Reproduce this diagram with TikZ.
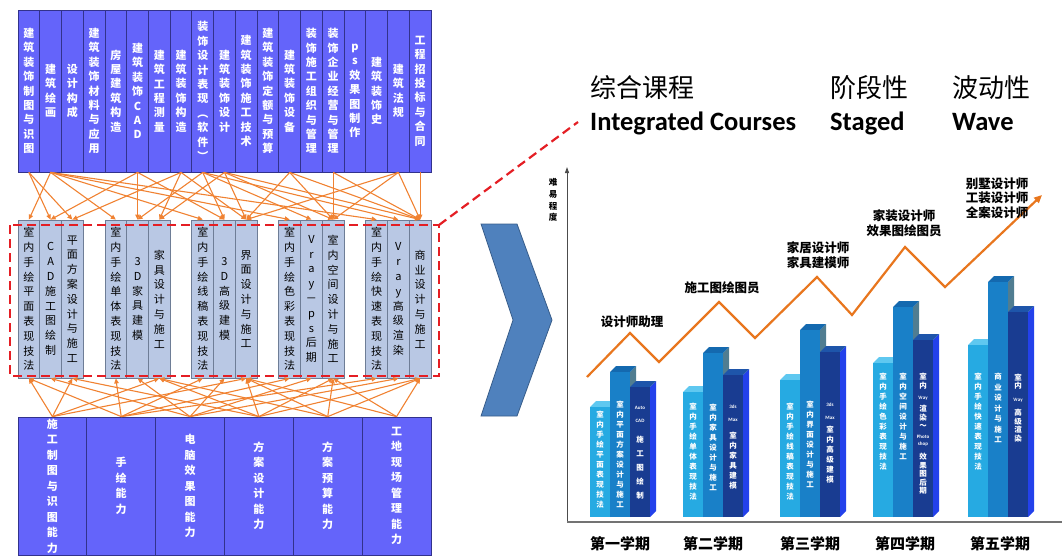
\documentclass[tikz,border=0pt]{standalone}
\usepackage{fontspec}
\setmainfont{Carlito}
\newfontfamily\cjk{Noto Sans CJK SC}
\usetikzlibrary{arrows.meta}
\def\vtgobble#1{}
\def\vtid#1{#1}
\def\vt#1{\vtfirst#1\relax}
\def\vtfirst#1{#1\vtrest}
\def\vtrest#1{\ifx#1\relax\expandafter\vtgobble\else\expandafter\vtid\fi{\\#1\vtrest}}
\def\vtx#1{\expandafter\vt\expandafter{#1}}
\definecolor{boxblue}{RGB}{100,100,250}
\definecolor{boxline}{RGB}{50,50,140}
\definecolor{midfill}{RGB}{185,200,228}
\definecolor{midline}{RGB}{110,125,150}
\definecolor{connc}{RGB}{240,130,50}
\definecolor{dashred}{RGB}{228,30,36}
\definecolor{chev}{RGB}{79,129,189}
\definecolor{chevline}{RGB}{56,93,138}
\definecolor{zigc}{RGB}{232,118,30}
\definecolor{lightF}{RGB}{38,170,226}
\definecolor{lightT}{RGB}{95,200,240}
\definecolor{lightS}{RGB}{25,120,175}
\definecolor{medF}{RGB}{25,128,200}
\definecolor{medT}{RGB}{20,105,175}
\definecolor{medS}{RGB}{80,125,145}
\definecolor{darkF}{RGB}{25,60,145}
\definecolor{darkT}{RGB}{30,85,170}
\definecolor{darkS}{RGB}{35,65,235}
\newcommand\chartbar[5]{%
  \fill[#5] ({#1+20},517) -- ({#1+26},511) -- ({#1+26},{#2-6}) -- ({#1+20},#2) -- cycle;
  \fill[#4] (#1,#2) -- ({#1+6},{#2-6}) -- ({#1+26},{#2-6}) -- ({#1+20},#2) -- cycle;
  \fill[#3] (#1,#2) rectangle ({#1+20},517);
}
\newcommand\bt[5][]{\node[bartext,#1] (#2) at (#3,{#4-3.75}) {\vt{#5}};}
\newcommand\bl[4]{\node[barlatin] (#1) at (#2,#3) {#4};}
\begin{document}
\begin{tikzpicture}[x=1pt,y=-1pt,
  topbox/.style={draw=boxline, fill=boxblue, text=white, line width=0.8pt, minimum width=21.74pt, minimum height=162pt, inner sep=0pt, align=center, font=\cjk\bfseries\fontsize{11}{14.4}\selectfont},
  midbox/.style={draw=midline, fill=midfill, text=black, line width=0.8pt, minimum width=21.74pt, minimum height=158pt, inner sep=0pt, align=center, font=\cjk\fontsize{11}{14.8}\selectfont},
  botbox/.style={draw=boxline, fill=boxblue, text=white, line width=0.8pt, minimum width=68.83pt, minimum height=138pt, inner sep=0pt, align=center, font=\cjk\bfseries\fontsize{11}{15.5}\selectfont},
  conn/.style={draw=connc, line width=1.1pt, -{Triangle[length=5pt,width=4.5pt]}},
  reddash/.style={draw=dashred, line width=2.2pt, dash pattern=on 9pt off 5pt},
  bartext/.style={text=white, inner sep=0pt, anchor=north, align=center, font=\cjk\bfseries\fontsize{7.5}{10}\selectfont},
  barlatin/.style={text=white, inner sep=0pt, font=\bfseries\fontsize{5}{6}\selectfont},
  lab/.style={inner sep=0pt, align=center, font=\cjk\bfseries\fontsize{12.5}{14.5}\selectfont},
  sem/.style={inner sep=0pt, font=\cjk\bfseries\fontsize{15}{17}\selectfont},
  zigline/.style={draw=zigc, line width=2.2pt, line join=miter, -{Triangle[length=8pt,width=7pt]}}
]
\useasboundingbox (0,0) rectangle (1062,557);

% top row
\foreach \txt [count=\i] in {建筑装饰制图与识图,建筑绘画,设计构成,建筑装饰材料与应用,房屋建筑构造,建筑装饰CAD,建筑工程测量,建筑装饰构造,装饰设计表现︵软件︶,建筑装饰设计,建筑装饰施工技术,建筑装饰定额与预算,建筑装饰设备,装饰施工组织与管理,装饰企业经营与管理,ps效果图制作,建筑装饰史,建筑法规,工程招投标与合同}
  \node[topbox] (t\i) at ({18+21.737*(\i-0.5)},91) {\vtx{\txt}};

% middle row
\foreach \txt [count=\j] in {室内手绘平面表现技法,CAD施工图绘制,平面方案设计与施工,室内手绘单体表现技法,3D家具建模,家具设计与施工,室内手绘线稿表现技法,3D高级建模,界面设计与施工,室内手绘色彩表现技法,Vray－ps后期,室内空间设计与施工,室内手绘快速表现技法,Vray高级渲染,商业设计与施工}{
  \pgfmathtruncatemacro\g{(\j-1)/3}
  \pgfmathtruncatemacro\k{\j-3*\g}
  \node[midbox] (m\j) at ({18+21.737*(4*\g+\k-0.5)},299) {\vtx{\txt}};
}

% bottom row
\foreach \txt [count=\i] in {施工制图与识图能力,手绘能力,电脑效果图能力,方案设计能力,方案预算能力,工地现场管理能力}
  \node[botbox] (b\i) at ({18+68.83*(\i-0.5)},486) {\vtx{\txt}};

% connectors top -> middle
\foreach \s/\d in {1/2,1/3,2/1,2/4,2/7,2/10,2/13,6/2,6/5,6/8,8/3,8/6,8/9,9/5,9/8,9/11,9/14,10/6,10/9,10/12,10/15,13/9,13/12,13/15,15/12,15/15,18/9,18/12,18/15,19/15}
  \draw[conn] (t\s.south) -- (m\d.north);
% connectors bottom -> middle
\foreach \s/\d in {1/1,1/3,1/6,1/9,2/1,2/4,2/7,2/10,2/13,3/2,3/5,3/8,3/11,3/14,4/3,4/6,4/9,4/12,4/15,5/6,5/9,5/12,5/15,6/9,6/12,6/15}
  \draw[conn] (b\s.north) -- (m\d.south);

% red dashed frame and leader
\draw[reddash] (10,225) rectangle (439,376);
\coordinate (rc) at (439,225);
\coordinate (re) at (578,122);
\draw[reddash] (rc) -- (re);

% chevron
\filldraw[fill=chev, draw=chevline, line width=0.8pt] (481,224) -- (517,224) -- (552,320) -- (517,416) -- (481,416) -- (513,320) -- cycle;

% titles
\node[anchor=base west, inner sep=0pt, font=\cjk\fontsize{26}{28}\selectfont] (ti1) at (590,97) {综合课程};
\node[anchor=base west, inner sep=0pt, font=\bfseries\fontsize{26.5}{28}\selectfont] (ti2) at (590,130) {Integrated Courses};
\node[anchor=base west, inner sep=0pt, font=\cjk\fontsize{26}{28}\selectfont] (ti3) at (830,97) {阶段性};
\node[anchor=base west, inner sep=0pt, font=\bfseries\fontsize{26.5}{28}\selectfont] (ti4) at (830,130) {Staged};
\node[anchor=base west, inner sep=0pt, font=\cjk\fontsize{26}{28}\selectfont] (ti5) at (952,97) {波动性};
\node[anchor=base west, inner sep=0pt, font=\bfseries\fontsize{26.5}{28}\selectfont] (ti6) at (952,130) {Wave};

% axes
\draw[line width=0.9pt, black!70, -{Triangle[length=6pt,width=4pt]}] (567,522) -- (567,167);
\draw[line width=2pt, black!55] (567,522) -- (1062,522);
\node[inner sep=0pt, align=center, font=\cjk\bfseries\fontsize{8.5}{11.7}\selectfont] (yl) at (553,200) {\vt{难易程度}};

% bars
\chartbar{590}{407}{lightF}{lightT}{lightS}
\chartbar{610}{372}{medF}{medT}{medS}
\chartbar{630}{387}{darkF}{darkT}{darkS}
\chartbar{683}{392}{lightF}{lightT}{lightS}
\chartbar{703}{353}{medF}{medT}{medS}
\chartbar{723}{375}{darkF}{darkT}{darkS}
\chartbar{780}{380}{lightF}{lightT}{lightS}
\chartbar{800}{330}{medF}{medT}{medS}
\chartbar{820}{352}{darkF}{darkT}{darkS}
\chartbar{873}{363}{lightF}{lightT}{lightS}
\chartbar{893}{307}{medF}{medT}{medS}
\chartbar{913}{340}{darkF}{darkT}{darkS}
\chartbar{968}{345}{lightF}{lightT}{lightS}
\chartbar{988}{282}{medF}{medT}{medS}
\chartbar{1008}{312}{darkF}{darkT}{darkS}

% bar texts
\bt{g1a}{600}{415}{室内手绘平面表现技法}
\bt{g1b}{620}{405}{室内平面方案设计与施工}
\bl{g1c}{640}{408}{Auto}
\bl{g1d}{640}{421}{CAD}
\bt[font=\cjk\bfseries\fontsize{7.5}{14}\selectfont]{g1e}{640}{440}{施工图绘制}
\bt{g2a}{693}{407}{室内手绘单体表现技法}
\bt{g2b}{713}{408}{室内家具设计与施工}
\bl{g2c}{733}{407}{3ds}
\bl{g2d}{733}{420}{Max}
\bt{g2e}{733}{436}{室内家具建模}
\bt{g3a}{790}{407}{室内手绘线稿表现技法}
\bt{g3b}{810}{405}{室内界面设计与施工}
\bl{g3c}{830}{405}{3ds}
\bl{g3d}{830}{418}{Max}
\bt{g3e}{830}{430}{室内高级建模}
\bt{g4a}{883}{377}{室内手绘色彩表现技法}
\bt{g4b}{903}{377}{室内空间设计与施工}
\bt[font=\cjk\bfseries\fontsize{7.5}{8.5}\selectfont]{g4c}{923}{377}{室内}
\bl{g4d}{923}{398}{Vray}
\bt[font=\cjk\bfseries\fontsize{7.5}{8.5}\selectfont]{g4e}{923}{409}{渲染～}
\bl{g4f}{923}{437}{Photo}
\bl{g4g}{923}{444}{shop}
\bt[font=\cjk\bfseries\fontsize{7.5}{8.5}\selectfont]{g4h}{923}{457}{效果图后期}
\bt{g5a}{978}{377}{室内手绘快速表现技法}
\bt[font=\cjk\bfseries\fontsize{7.5}{10.5}\selectfont]{g5b}{998}{377}{商业设计与施工}
\bt[font=\cjk\bfseries\fontsize{7.5}{8}\selectfont]{g5c}{1018}{378}{室内}
\bl{g5d}{1018}{400}{Vray}
\bt[font=\cjk\bfseries\fontsize{7.5}{8.5}\selectfont]{g5e}{1018}{413}{高级渲染}

% zigzag
\draw[zigline] (587,377) -- (630,333) -- (659,362) -- (719,302) -- (755,338) -- (817,277) -- (852,315) -- (905,247) -- (945,287) -- (1042,195);

% chart labels
\node[lab] (c1) at (632,322) {设计师助理};
\node[lab] (c2) at (722,288) {施工图绘图员};
\node[lab] (c3) at (818,255) {家居设计师\\家具建模师};
\node[lab] (c4) at (904,223) {家装设计师\\效果图绘图员};
\node[lab] (c5) at (997,198) {别墅设计师\\工装设计师\\全案设计师};

% semesters
\node[sem] (s1) at (620,544) {第一学期};
\node[sem] (s2) at (713,544) {第二学期};
\node[sem] (s3) at (810,544) {第三学期};
\node[sem] (s4) at (905,544) {第四学期};
\node[sem] (s5) at (1000,544) {第五学期};
\end{tikzpicture}
\end{document}
